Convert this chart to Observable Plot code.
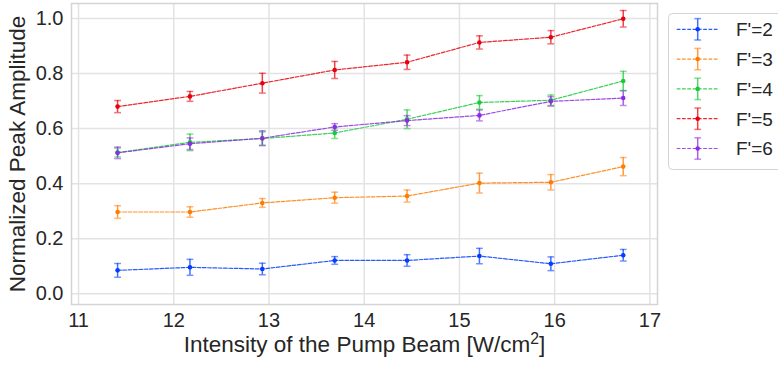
<!DOCTYPE html>
<html><head><meta charset="utf-8">
<script src="https://cdn.jsdelivr.net/npm/d3@7"></script>
<script src="https://cdn.jsdelivr.net/npm/@observablehq/plot@0.6"></script>
<style>
body{margin:0;background:#fff;}
#wrap{position:relative;width:778px;height:365px;font-family:"Liberation Sans",Arial,sans-serif;overflow:hidden;}
#legend{position:absolute;left:668px;top:13px;width:130px;height:157px;}
</style></head><body><div id="wrap"><div id="chart"></div><div id="legend"></div></div>
<script>
const intensity = [11.41, 12.17, 12.93, 13.69, 14.45, 15.21, 15.96, 16.72];
const seriesNames = ["F'=2", "F'=3", "F'=4", "F'=5", "F'=6"];
const seriesColors = ["#023eff", "#ff7c00", "#1ac938", "#e8000b", "#8b2be2"];
const f2 = [0.085, 0.096, 0.090, 0.121, 0.121, 0.137, 0.109, 0.140];
const f2err = [0.025, 0.029, 0.021, 0.014, 0.021, 0.028, 0.025, 0.021];
const f3 = [0.297, 0.297, 0.330, 0.349, 0.355, 0.402, 0.405, 0.462];
const f3err = [0.023, 0.019, 0.016, 0.020, 0.022, 0.036, 0.028, 0.033];
const f4 = [0.513, 0.550, 0.564, 0.584, 0.634, 0.695, 0.703, 0.773];
const f4err = [0.016, 0.030, 0.024, 0.020, 0.034, 0.025, 0.019, 0.035];
const f5 = [0.680, 0.717, 0.765, 0.813, 0.841, 0.913, 0.932, 0.999];
const f5err = [0.022, 0.018, 0.036, 0.031, 0.026, 0.024, 0.024, 0.030];
const f6 = [0.512, 0.545, 0.565, 0.606, 0.629, 0.648, 0.699, 0.711];
const f6err = [0.021, 0.021, 0.027, 0.012, 0.018, 0.020, 0.017, 0.027];
const xTicks = [11, 12, 13, 14, 15, 16, 17];
const yTicks = [0, 0.2, 0.4, 0.6, 0.8, 1.0];
const xLabel = "Intensity of the Pump Beam [W/cm²]";
const yLabel = "Normalized Peak Amplitude";

const values = [f2, f3, f4, f5, f6];
const errors = [f2err, f3err, f4err, f5err, f6err];
const rows = [];
seriesNames.forEach((s, k) => intensity.forEach((x, i) =>
  rows.push({series: s, x, y: values[k][i], err: errors[k][i]})));

const cap = {draw(ctx, size) { const w = Math.sqrt(size / Math.PI); ctx.moveTo(-w, 0); ctx.lineTo(w, 0); }};
const ink = "#262626";

const chart = Plot.plot({
  width: 778, height: 365,
  marginLeft: 71, marginRight: 121, marginTop: 3, marginBottom: 61,
  style: {fontFamily: "'Liberation Sans', Arial, sans-serif", background: "white", color: ink},
  x: {domain: [10.926, 17.08]},
  y: {domain: [-0.039, 1.0545]},
  color: {domain: seriesNames, range: seriesColors},
  marks: [
    Plot.gridX(xTicks, {stroke: "#e3e3e3", strokeOpacity: 1, strokeWidth: 1.5}),
    Plot.gridY(yTicks, {stroke: "#e3e3e3", strokeOpacity: 1, strokeWidth: 1.5}),
    Plot.frame({stroke: "#d4d4d4", strokeWidth: 1.5}),
    Plot.axisX(xTicks, {tickSize: 0, tickPadding: 8.5, fontSize: 20, fill: ink, label: xLabel, labelAnchor: "center", labelOffset: 47, labelArrow: "none"}),
    Plot.axisY(yTicks, {tickSize: 0, tickPadding: 8, fontSize: 20, fill: ink, tickFormat: d3.format(".1f"), label: yLabel, labelAnchor: "center", labelOffset: 62, labelArrow: "none"}),
    Plot.line(rows, {x: "x", y: "y", z: "series", stroke: "series", strokeDasharray: "3.7,1.6", strokeWidth: 1.2, strokeOpacity: 0.85}),
    Plot.ruleX(rows, {x: "x", y1: d => d.y - d.err, y2: d => d.y + d.err, stroke: "series", strokeWidth: 1.5, strokeOpacity: 0.75}),
    Plot.dot(rows, {x: "x", y: d => d.y + d.err, symbol: cap, r: 3.4, fill: "none", stroke: "series", strokeWidth: 1.5, strokeOpacity: 0.55}),
    Plot.dot(rows, {x: "x", y: d => d.y - d.err, symbol: cap, r: 3.4, fill: "none", stroke: "series", strokeWidth: 1.5, strokeOpacity: 0.55}),
    Plot.dot(rows, {x: "x", y: "y", fill: "series", r: 2.3})
  ]
});
document.getElementById("chart").appendChild(chart);

// axis label styling + superscript
const svg = d3.select(chart);
svg.selectAll('g[aria-label="x-axis label"] text, g[aria-label="y-axis label"] text')
  .attr("font-size", 22.5).attr("fill", ink);
svg.selectAll('g[aria-label="x-axis label"] text').each(function() {
  const t = d3.select(this);
  const txt = t.text();
  const i = txt.indexOf("²");
  if (i < 0) return;
  t.text(null);
  t.append("tspan").text(txt.slice(0, i));
  t.append("tspan").attr("baseline-shift", "super").attr("font-size", "70%").text("2");
  t.append("tspan").text(txt.slice(i + 1));
});

// legend
const lg = d3.select("#legend").append("svg").attr("width", 130).attr("height", 157);
lg.append("rect").attr("x", 0.5).attr("y", 0.5).attr("width", 140).attr("height", 156)
  .attr("rx", 4).attr("fill", "white").attr("stroke", "#d4d4d4");
seriesNames.forEach((s, i) => {
  const cy = 16.3 + i * 29.8, c = seriesColors[i];
  const g = lg.append("g");
  g.append("line").attr("x1", 8.7).attr("x2", 50.3).attr("y1", cy).attr("y2", cy)
    .attr("stroke", c).attr("stroke-width", 1.2).attr("stroke-dasharray", "3.7,1.6").attr("stroke-opacity", 0.85);
  g.append("line").attr("x1", 29.7).attr("x2", 29.7).attr("y1", cy - 10.7).attr("y2", cy + 10.7)
    .attr("stroke", c).attr("stroke-width", 1.5).attr("stroke-opacity", 0.75);
  [cy - 10.7, cy + 10.7].forEach(yy => g.append("line").attr("x1", 26.3).attr("x2", 33.1).attr("y1", yy).attr("y2", yy)
    .attr("stroke", c).attr("stroke-width", 1.5).attr("stroke-opacity", 0.55));
  g.append("circle").attr("cx", 29.7).attr("cy", cy).attr("r", 2.3).attr("fill", c);
  g.append("text").attr("x", 68).attr("y", cy).attr("dy", "0.36em").attr("font-size", 19)
    .attr("font-family", "'Liberation Sans', Arial, sans-serif").attr("fill", ink).text(s);
});
</script></body></html>
